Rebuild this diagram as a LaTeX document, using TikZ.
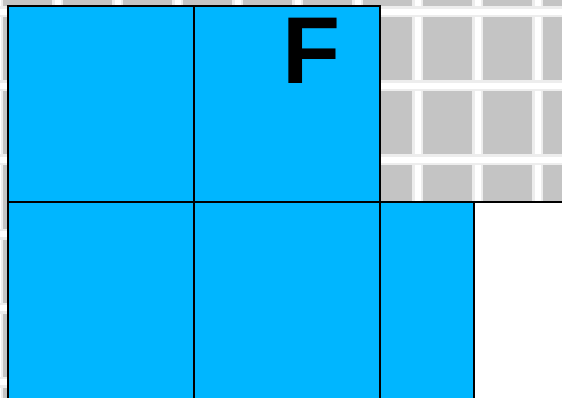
\documentclass[tikz,border=0pt]{standalone}
\usepackage{fontspec}
\setmainfont{Liberation Sans}
\usepackage{tikz}
\definecolor{tilegray}{RGB}{196,196,196}
\definecolor{tileblue}{RGB}{0,182,255}
\begin{document}
\begin{tikzpicture}[x=1pt, y=-1pt]
\useasboundingbox (0,0) rectangle (562,398);
% background tiles
\fill[tilegray] (0,0) rectangle (562,398);
\foreach \x in {-2.5,57.5,...,537.5}{
  \draw[white!70!tilegray, line width=11pt] (\x,0) -- (\x,398);
  \draw[white, line width=6pt] (\x,0) -- (\x,398);
}
\foreach \y in {12,86,...,382}{
  \draw[white!70!tilegray, line width=11pt] (0,\y) -- (562,\y);
  \draw[white, line width=6pt] (0,\y) -- (562,\y);
}

% ---- blue blocks ----
\fill[tileblue] (8,6) rectangle (380,400);
\fill[tileblue] (380,202) rectangle (474,400);
\fill[white] (474,202) rectangle (564,400);
\draw[black, line width=1.6pt] (8,400) -- (8,6) -- (380,6) -- (380,400);
\draw[black, line width=1.6pt] (194,6) -- (194,400);
\draw[black, line width=1.6pt] (8,202) -- (564,202);
\draw[black, line width=1.6pt] (474,202) -- (474,400);

% ---- letter ----
\node[font=\fontsize{95}{95}\selectfont\bfseries, anchor=base west, inner sep=0pt]
  (letterF) at (282,84) {F};
\end{tikzpicture}
\end{document}
